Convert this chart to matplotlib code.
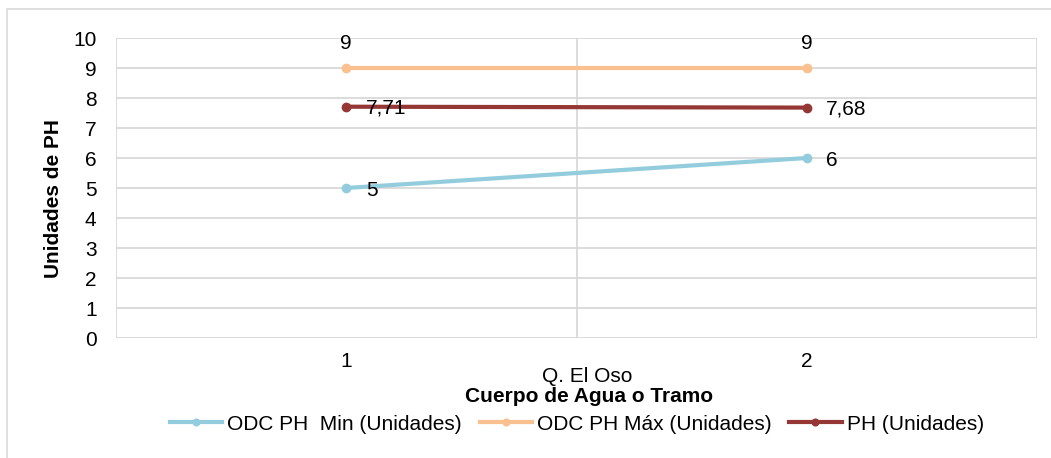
import matplotlib
matplotlib.use("Agg")
import matplotlib.pyplot as plt
from matplotlib.patches import Rectangle

plt.rcParams['font.family'] = ['Liberation Sans', 'DejaVu Sans']

categories = ["1", "2"]
group_label = "Q. El Oso"
ph_min = [5, 6]
ph_max = [9, 9]
ph = [7.71, 7.68]
series_names = ["ODC PH  Min (Unidades)", "ODC PH Máx (Unidades)", "PH (Unidades)"]
colors = ["#93CDDD", "#FAC08F", "#953735"]
yticks = list(range(0, 11))

fig = plt.figure(figsize=(10.51, 4.58), dpi=100)
W, H = 1051, 458
ax = fig.add_axes([116 / W, 1 - 338 / H, (1037 - 116) / W, 300 / H])

x = [1, 2]
series = [ph_min, ph_max, ph]
lines = []
for vals, c, name in zip(series, colors, series_names):
    ln, = ax.plot(x, vals, color=c, lw=3, marker='o', ms=6, label=name, zorder=3)
    lines.append(ln)

def fmt(v):
    return ("%g" % v).replace(".", ",")

FS = 15
for xi, v in zip(x, ph_max):
    ax.annotate(fmt(v), (xi, v), xytext=(0, 17.5), textcoords='offset points',
                ha='center', va='center', fontsize=FS)
for xi, v in zip(x, ph):
    ax.annotate(fmt(v), (xi, v), xytext=(14, -1), textcoords='offset points',
                ha='left', va='center', fontsize=FS)
for xi, v in zip(x, ph_min):
    ax.annotate(fmt(v), (xi, v), xytext=(14, -2), textcoords='offset points',
                ha='left', va='center', fontsize=FS)

ax.set_xlim(0.5, 2.5)
ax.set_ylim(0, 10)
ax.set_yticks(yticks)
ax.set_xticks(x)
ax.set_xticklabels(categories)
ax.tick_params(axis='both', length=0, labelsize=FS)
ax.tick_params(axis='x', pad=10)
ax.tick_params(axis='y', pad=14)

ax.grid(axis='y', color='#D9D9D9', lw=1.3, zorder=0)
for xv in [0.5, 1.5, 2.5]:
    ax.axvline(xv, color='#D9D9D9', lw=1.3, zorder=0)
for s in ax.spines.values():
    s.set_visible(False)

fig.text(587 / W, 1 - 376 / H, group_label, ha='center', va='center', fontsize=FS)
fig.text(589 / W, 1 - 397 / H, "Cuerpo de Agua o Tramo", ha='center', va='center',
         fontsize=15, fontweight='bold')
fig.text(54 / W, 1 - 199 / H, "Unidades de PH", ha='center', va='center',
         fontsize=15, fontweight='bold', rotation=90)

leg = fig.legend(handles=lines, loc='center', bbox_to_anchor=(577 / W, 1 - 424 / H),
                 ncol=3, frameon=False, fontsize=FS, handlelength=2.5,
                 handletextpad=0.25, columnspacing=0.85, markerscale=0.8,
                 borderaxespad=0, borderpad=0)

fig.patches.append(Rectangle((7 / W, -0.05), 1.1, 1.05 - 9 / H, transform=fig.transFigure,
                             fill=False, edgecolor='#D9D9D9', lw=1.2))

fig.savefig("out.png", dpi=100)
